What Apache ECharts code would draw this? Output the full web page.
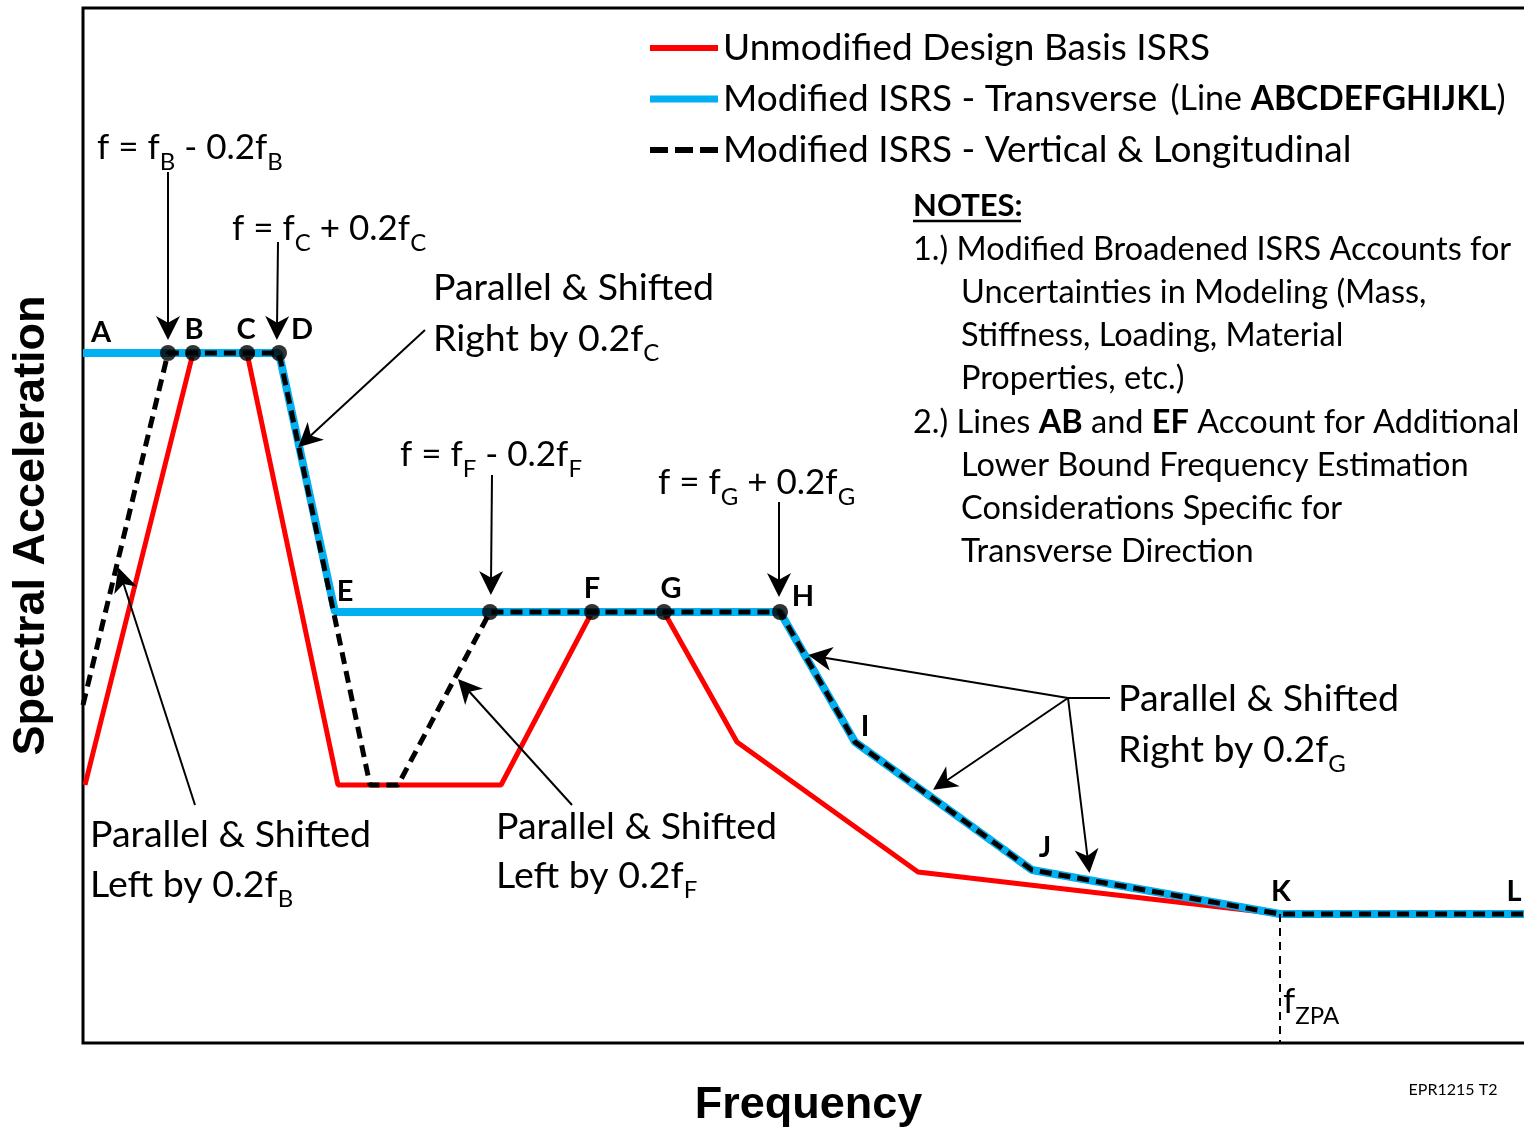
<!DOCTYPE html>
<html><head><meta charset="utf-8">
<script src="https://cdn.jsdelivr.net/npm/echarts@6/dist/echarts.min.js"></script>
<style>html,body{margin:0;padding:0;background:#fff;overflow:hidden}#c{width:1524px;height:1128px}</style>
</head><body><div id="c"></div>
<script>
// ---- data (arbitrary schematic units: frequency along x, spectral acceleration along y)
const seriesNames = ['Unmodified Design Basis ISRS', 'Modified ISRS - Transverse', 'Modified ISRS - Vertical & Longitudinal'];
const unmodified = [[2,258],[110,690],[164,690],[255,258],[418,258],[509,431],[581,431],[654,301],[835,171],[1197,129],[1451,129]];
const transverse = [[0,690],[196,690],[252,431],[697,431],[772,301],[949,173],[1197,129],[1451,129]];
const vertLong   = [[0,338],[85,690],[196,690],[287,258],[315,258],[407,431],[697,431],[772,301],[949,173],[1197,129],[1451,129]];
const keyPoints  = [[85,690],[110,690],[164,690],[196,690],[407,431],[509,431],[581,431],[697,431]];
const fzpaLine   = [[1197,129],[1197,0]];
// annotation arrows: [from, to]
const arrows = [
  [[85,871],[85,715]],
  [[195,801],[194,715]],
  [[342,713],[224,604]],
  [[409,568],[408,460]],
  [[696,541],[696,458]],
  [[112,238],[39,464]],
  [[489,238],[383,355]],
  [[985,345],[737,386]],
  [[985,345],[860,260]],
  [[985,345],[1005,182]]
];
const plainLines = [ [[1027,345],[985,345]] ];
const pointLetters = [['A',101,333],['B',194,330],['C',246,330],['D',302,330],['E',345,592],['F',592,589],['G',671,589],['H',803,597],['I',865,727],['J',1045,848],['K',1281,892],['L',1514,892]];
const notes = [
  [913,250,'1.) Modified Broadened ISRS Accounts for'],
  [961,293,'Uncertainties in Modeling (Mass,'],
  [961,336,'Stiffness, Loading, Material'],
  [961,379,'Properties, etc.)'],
  [913,423,'2.) Lines {b|AB} and {b|EF} Account for Additional'],
  [961,466,'Lower Bound Frequency Estimation'],
  [961,509,'Considerations Specific for'],
  [961,552,'Transverse Direction']
];

const FONT = 'Lato';
const ARROW = 'path://M10,0 L20,28 L10,20 L0,28 Z';
function rich(size, subSize) {
  return {
    m: {fontFamily: FONT, fontSize: size, lineHeight: 52, color: '#000'},
    s: {fontFamily: FONT, fontSize: subSize, lineHeight: subSize, verticalAlign: 'bottom', color: '#000'}
  };
}
function t(x, y, text, extra) {
  return Object.assign({type: 'text', x: x, y: y, silent: true, z: 100,
    style: Object.assign({text: text, fill: '#000', font: '37px ' + FONT, align: 'left', verticalAlign: 'middle', rich: rich(37.5, 24)}, extra || {})});
}
const F = {rich: rich(35, 24)};
const graphics = [];
graphics.push(t(97, 148, '{m|f = f}{s|B}{m| - 0.2f}{s|B}', F));
graphics.push(t(232, 229, '{m|f = f}{s|C}{m| + 0.2f}{s|C}', F));
graphics.push(t(400, 455, '{m|f = f}{s|F}{m| - 0.2f}{s|F}', F));
graphics.push(t(658, 483, '{m|f = f}{s|G}{m| + 0.2f}{s|G}', F));
graphics.push(t(433, 288, '{m|Parallel & Shifted}'));
graphics.push(t(433, 339, '{m|Right by 0.2f}{s|C}'));
graphics.push(t(1118, 699, '{m|Parallel & Shifted}'));
graphics.push(t(1118, 750, '{m|Right by 0.2f}{s|G}'));
graphics.push(t(90, 835, '{m|Parallel & Shifted}'));
graphics.push(t(90, 885, '{m|Left by 0.2f}{s|B}'));
graphics.push(t(496, 827, '{m|Parallel & Shifted}'));
graphics.push(t(496, 876, '{m|Left by 0.2f}{s|F}'));
graphics.push(t(1283, 1002, '{m|f}{s|ZPA}', F));
pointLetters.forEach(p => graphics.push(t(p[1], p[2], p[0], {font: 'bold 29px ' + FONT, align: 'center'})));
graphics.push(t(913, 206, 'NOTES:', {font: 'bold 31px ' + FONT}));
graphics.push({type: 'line', silent: true, z: 100, shape: {x1: 913, y1: 221, x2: 1021, y2: 221}, style: {stroke: '#000', lineWidth: 2.5}});
notes.forEach(n => graphics.push(t(n[0], n[1], n[2], {font: '32.5px ' + FONT, rich: {b: {fontFamily: FONT, fontSize: 32.5, fontWeight: 'bold'}}})));
graphics.push(t(1453, 1090, 'EPR1215 T2', {font: '16px ' + FONT, align: 'center'}));

const chart = echarts.init(document.getElementById('c'));
chart.setOption({
  animation: false,
  backgroundColor: '#fff',
  grid: {left: 83, top: 8, width: 1451, height: 1035, outerBoundsMode: 'none', containLabel: false,
    show: true, borderColor: '#000', borderWidth: 3, backgroundColor: 'transparent'},
  xAxis: {type: 'value', min: 0, max: 1451, name: 'Frequency', nameLocation: 'middle', nameGap: 40,
    nameTextStyle: {fontFamily: 'Liberation Sans', fontWeight: 'bold', fontSize: 45, color: '#000', verticalAlign: 'top'},
    axisLine: {show: false}, axisTick: {show: false}, axisLabel: {show: false}, splitLine: {show: false}},
  yAxis: {type: 'value', min: 0, max: 1035, name: 'Spectral Acceleration', nameLocation: 'middle', nameGap: 29, nameRotate: 90,
    nameTextStyle: {fontFamily: 'Liberation Sans', fontWeight: 'bold', fontSize: 45, color: '#000'},
    axisLine: {show: false}, axisTick: {show: false}, axisLabel: {show: false}, splitLine: {show: false}},
  legend: {
    orient: 'vertical', left: 650, top: 26, padding: 0, itemWidth: 68, itemHeight: 8, itemGap: 7,
    selectedMode: false,
    textStyle: {fontFamily: FONT, fontSize: 37, lineHeight: 44, color: '#000',
      rich: {
        b: {fontFamily: FONT, fontSize: 33.5, fontWeight: 'bold', color: '#000'},
        n: {fontFamily: FONT, fontSize: 34, color: '#000'},
        sp: {width: 13}
      }},
    formatter: name => name === seriesNames[1] ? name + '{sp|}{n|(Line }{b|ABCDEFGHIJKL}{n|)}' : name,
    data: [
      {name: seriesNames[0], icon: 'path://M0,0 L68,0 L68,6 L0,6 Z', itemStyle: {color: '#FF0000'}},
      {name: seriesNames[1], icon: 'path://M0,0 L68,0 L68,7 L0,7 Z', itemStyle: {color: '#00B0F0'}},
      {name: seriesNames[2], icon: 'path://M0,0 L18,0 L18,6 L0,6 Z M25,0 L43,0 L43,6 L25,6 Z M50,0 L68,0 L68,6 L50,6 Z', itemStyle: {color: '#000'}}
    ]
  },
  graphic: graphics,
  series: [
    {name: seriesNames[0], type: 'line', data: unmodified, symbol: 'none', z: 2,
      lineStyle: {color: '#FF0000', width: 5}, itemStyle: {color: '#FF0000'}},
    {name: seriesNames[1], type: 'line', data: transverse, symbol: 'none', z: 3,
      lineStyle: {color: '#00B0F0', width: 8}, itemStyle: {color: '#00B0F0'}},
    {name: seriesNames[2], type: 'line', data: vertLong, symbol: 'none', z: 4,
      lineStyle: {color: '#000', width: 5, type: [12, 7]}, itemStyle: {color: '#000'}},
    {name: 'fZPA', type: 'line', data: fzpaLine, symbol: 'none', z: 5,
      lineStyle: {color: '#000', width: 2, type: [8, 6]},
      markLine: {silent: true, animation: false, symbol: ['none', ARROW], symbolSize: 24,
        label: {show: false}, lineStyle: {color: '#000', width: 2, type: 'solid'}, itemStyle: {color: '#000'},
        data: arrows.map(a => [{coord: a[0]}, {coord: a[1]}]).concat(plainLines.map(a => [{coord: a[0], symbol: 'none'}, {coord: a[1], symbol: 'none'}]))}},
    {name: 'points', type: 'scatter', data: keyPoints, symbol: 'circle', symbolSize: 16, z: 6,
      itemStyle: {color: '#000'}}
  ]
});
</script></body></html>
